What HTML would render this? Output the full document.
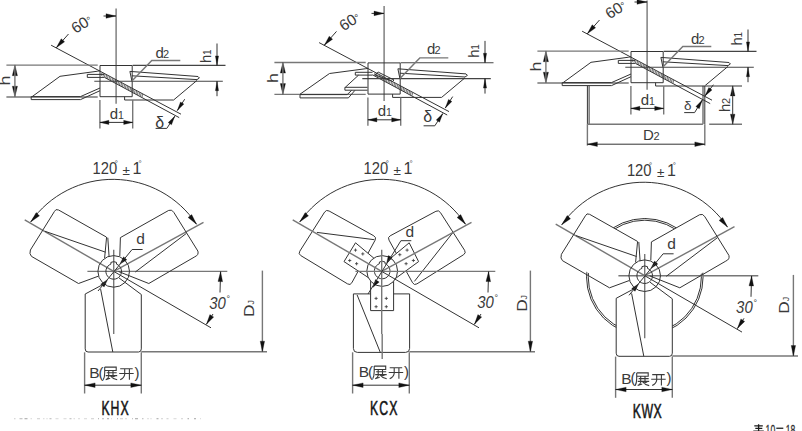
<!DOCTYPE html>
<html><head><meta charset="utf-8"><style>
html,body{margin:0;padding:0;background:#fff;}
svg{display:block}
.k{fill:none;stroke:#333;stroke-width:1}
.k2{fill:none;stroke:#444;stroke-width:1.1}
.g{fill:none;stroke:#777;stroke-width:1.4}
.g2{fill:none;stroke:#666;stroke-width:2}
.w{fill:#fff;stroke:none}
.kw{fill:#fff;stroke:#333;stroke-width:1}
.h{fill:none;stroke:#444;stroke-width:0.8}
.p{fill:none;stroke:#333;stroke-width:0.8}
.t{fill:none;stroke:#3a3a3a;stroke-width:1.1}
.f{fill:#111;stroke:#111;stroke-width:0.3}
text{font-family:"Liberation Sans",sans-serif;fill:#3a3a3a}
.lab{fill:#151515;stroke:#151515;stroke-width:0.55}
</style></head><body>
<svg width="802" height="431" viewBox="0 0 802 431">
<path class="g" d="M116.1 8.5 L116.1 103.7"/>
<path class="k" d="M103.5 16.0 L116.0 16.0"/>
<path class="f" d="M116.0 16.0 L106.0 18.3 L106.0 16.0 L106.0 13.7Z"/>
<path class="k" d="M51.1 45.2 L181.0 114.2"/>
<path class="k" d="M104.5 77.4 L179.2 117.6"/>
<path class="h" d="M102.0 72.6 L101.5 75.7"/>
<path class="h" d="M103.5 73.4 L103.0 76.5"/>
<path class="h" d="M105.0 74.2 L104.5 77.3"/>
<path class="h" d="M106.5 75.0 L106.0 78.1"/>
<path class="h" d="M108.0 75.8 L107.5 78.9"/>
<path class="h" d="M109.5 76.6 L109.0 79.7"/>
<path class="h" d="M111.0 77.4 L110.5 80.5"/>
<path class="h" d="M112.5 78.2 L112.0 81.3"/>
<path class="h" d="M114.0 79.0 L113.5 82.1"/>
<path class="h" d="M115.5 79.8 L115.0 82.9"/>
<path class="h" d="M117.0 80.6 L116.5 83.7"/>
<path class="h" d="M118.5 81.4 L118.0 84.5"/>
<path class="h" d="M120.0 82.2 L119.5 85.3"/>
<path class="h" d="M121.5 83.0 L121.0 86.1"/>
<path class="h" d="M123.0 83.8 L122.5 86.9"/>
<path class="h" d="M124.5 84.6 L124.0 87.7"/>
<path class="h" d="M126.0 85.4 L125.5 88.5"/>
<path class="h" d="M127.5 86.2 L127.0 89.3"/>
<path class="h" d="M129.0 87.0 L128.5 90.1"/>
<path class="h" d="M130.5 87.8 L130.0 90.9"/>
<path class="h" d="M132.0 88.6 L131.5 91.7"/>
<path class="h" d="M133.5 89.4 L133.0 92.5"/>
<path class="h" d="M135.0 90.2 L134.5 93.3"/>
<path class="h" d="M136.5 91.0 L136.0 94.1"/>
<path class="h" d="M138.0 91.8 L137.5 94.9"/>
<path class="h" d="M139.5 92.6 L139.0 95.7"/>
<path class="h" d="M141.0 93.4 L140.5 96.5"/>
<path class="h" d="M142.5 94.1 L142.0 97.3"/>
<path class="k" d="M68.5 34.0 L56.3 47.8"/>
<path class="f" d="M56.3 47.8 L61.2 38.8 L62.9 40.3 L64.6 41.8Z"/>
<text x="0.0" y="0.0" font-size="15.5" text-anchor="start" transform="translate(75.5 34.0) rotate(-32)" >60<tspan font-size="10" dy="-1">°</tspan></text>
<path class="g" d="M6.4 65.1 L97.7 65.1"/>
<path class="g" d="M6.4 97.0 L97.7 97.0"/>
<path class="k2" d="M132.7 65.4 L225.5 65.4"/>
<path class="k2" d="M94.3 81.2 L222.8 81.2"/>
<path class="k" d="M100.0 65.5 L132.2 65.5 L132.2 96.7 L100.0 96.7Z"/>
<path class="f" d="M14.9 64.9 L17.5 75.7 L14.9 75.7 L12.3 75.7Z"/>
<path class="f" d="M14.9 97.0 L12.3 86.2 L14.9 86.2 L17.5 86.2Z"/>
<path class="g" d="M14.9 65.0 L14.9 97.0"/>
<text x="0.0" y="0.0" font-size="15.5" text-anchor="start" transform="translate(9.6 85.5) rotate(-90) scale(1.15 1)" >h</text>
<path class="k" d="M31.9 96.8 L60.0 76.3 L97.7 71.2 L100.0 70.7"/>
<path class="k" d="M31.2 96.6 L80.5 96.6 L100.0 88.0"/>
<path class="k" d="M31.2 99.6 L80.5 99.6 L100.0 90.7"/>
<path class="k" d="M31.2 96.6 L31.2 99.6"/>
<path class="k" d="M87.3 74.4 L104.3 74.4"/>
<path class="k" d="M87.3 77.4 L104.3 77.4"/>
<path class="k" d="M87.3 74.4 L87.3 77.4"/>
<path class="k" d="M129.9 71.4 L198.0 76.5"/>
<path class="k" d="M131.9 75.8 L197.0 79.6"/>
<path class="k" d="M198.0 76.5 L199.4 78.0 L197.0 79.6"/>
<path class="k" d="M129.9 71.4 L131.9 81.1"/>
<path class="k" d="M197.0 80.4 L173.6 100.0"/>
<path class="k" d="M124.6 96.7 L124.6 100.0 L173.6 100.0"/>
<path class="g" d="M131.9 81.1 L151.8 60.5 L180.3 60.5"/>
<text x="155.6" y="58.2" font-size="15" text-anchor="start" >d</text>
<text x="163.0" y="58.2" font-size="11" text-anchor="start" >2</text>
<path class="k" d="M217.0 43.5 L217.0 65.4"/>
<path class="f" d="M217.0 65.4 L215.4 55.9 L217.0 55.9 L218.6 55.9Z"/>
<path class="k" d="M217.0 96.2 L217.0 81.2"/>
<path class="f" d="M217.0 81.2 L218.6 90.7 L217.0 90.7 L215.4 90.7Z"/>
<text x="0.0" y="0.0" font-size="15" text-anchor="start" transform="translate(210.5 63.0) rotate(-90)" >h</text>
<text x="0.0" y="0.0" font-size="10" text-anchor="start" transform="translate(210.5 55.0) rotate(-90)" >1</text>
<path class="g" d="M99.9 100.0 L99.9 128.4"/>
<path class="g" d="M132.7 100.0 L132.7 128.4"/>
<path class="k" d="M116.0 122.4 L99.9 122.4"/>
<path class="f" d="M99.9 122.4 L108.9 120.3 L108.9 122.4 L108.9 124.5Z"/>
<path class="k" d="M116.0 122.4 L132.7 122.4"/>
<path class="f" d="M132.7 122.4 L123.7 124.5 L123.7 122.4 L123.7 120.3Z"/>
<text x="109.8" y="118.5" font-size="15" text-anchor="start" >d</text>
<text x="118.0" y="118.5" font-size="10.5" text-anchor="start" >1</text>
<path class="k" d="M184.7 99.2 L177.3 110.6"/>
<path class="f" d="M177.3 110.6 L180.5 102.0 L182.2 103.1 L183.9 104.1Z"/>
<path class="k" d="M166.8 128.4 L174.8 116.2"/>
<path class="f" d="M174.8 116.2 L171.5 124.8 L169.9 123.7 L168.2 122.6Z"/>
<path class="k" d="M155.6 128.4 L166.8 128.4"/>
<text x="155.3" y="127.8" font-size="16" text-anchor="start" class="thin">δ</text>
<path class="g" d="M384.1 5.9 L384.1 101.1"/>
<path class="k" d="M371.5 13.4 L384.0 13.4"/>
<path class="f" d="M384.0 13.4 L374.0 15.7 L374.0 13.4 L374.0 11.1Z"/>
<path class="k" d="M319.1 42.6 L449.0 111.6"/>
<path class="k" d="M372.5 74.8 L447.2 115.0"/>
<path class="h" d="M375.0 72.7 L374.5 75.8"/>
<path class="h" d="M376.5 73.5 L376.0 76.6"/>
<path class="h" d="M378.0 74.3 L377.5 77.4"/>
<path class="h" d="M379.5 75.1 L379.0 78.2"/>
<path class="h" d="M381.0 75.9 L380.5 79.0"/>
<path class="h" d="M382.5 76.7 L382.0 79.8"/>
<path class="h" d="M384.0 77.5 L383.5 80.6"/>
<path class="h" d="M385.5 78.3 L385.0 81.4"/>
<path class="h" d="M387.0 79.1 L386.5 82.2"/>
<path class="h" d="M388.5 79.9 L388.0 83.0"/>
<path class="h" d="M390.0 80.7 L389.5 83.8"/>
<path class="h" d="M391.5 81.5 L391.0 84.6"/>
<path class="h" d="M393.0 82.3 L392.5 85.4"/>
<path class="h" d="M394.5 83.1 L394.0 86.2"/>
<path class="h" d="M396.0 83.9 L395.5 87.0"/>
<path class="h" d="M397.5 84.7 L397.0 87.8"/>
<path class="h" d="M399.0 85.5 L398.5 88.6"/>
<path class="h" d="M400.5 86.2 L400.0 89.4"/>
<path class="h" d="M402.0 87.0 L401.5 90.2"/>
<path class="h" d="M403.5 87.8 L403.0 91.0"/>
<path class="h" d="M405.0 88.6 L404.5 91.8"/>
<path class="h" d="M406.5 89.4 L406.0 92.6"/>
<path class="h" d="M408.0 90.2 L407.5 93.4"/>
<path class="h" d="M409.5 91.0 L409.0 94.1"/>
<path class="h" d="M411.0 91.8 L410.5 94.9"/>
<path class="h" d="M412.5 92.6 L412.0 95.7"/>
<path class="k" d="M336.5 31.4 L324.3 45.2"/>
<path class="f" d="M324.3 45.2 L329.2 36.2 L330.9 37.7 L332.6 39.2Z"/>
<text x="0.0" y="0.0" font-size="15.5" text-anchor="start" transform="translate(343.5 31.4) rotate(-32)" >60<tspan font-size="10" dy="-1">°</tspan></text>
<path class="g" d="M274.4 62.5 L365.7 62.5"/>
<path class="g" d="M274.4 94.4 L365.7 94.4"/>
<path class="k2" d="M400.7 62.8 L493.5 62.8"/>
<path class="k2" d="M362.3 78.6 L490.8 78.6"/>
<path class="k" d="M368.0 62.9 L400.2 62.9 L400.2 94.1 L368.0 94.1Z"/>
<path class="f" d="M282.9 62.3 L285.5 73.1 L282.9 73.1 L280.3 73.1Z"/>
<path class="f" d="M282.9 94.4 L280.3 83.6 L282.9 83.6 L285.5 83.6Z"/>
<path class="g" d="M282.9 62.4 L282.9 94.4"/>
<text x="0.0" y="0.0" font-size="15.5" text-anchor="start" transform="translate(277.6 82.9) rotate(-90) scale(1.15 1)" >h</text>
<path class="k" d="M300.0 94.2 L329.5 73.5 L365.8 68.7 L368.0 68.4"/>
<path class="k" d="M300.0 94.6 L347.2 94.6 L351.6 90.4"/>
<path class="k" d="M300.0 97.9 L348.4 97.9 L354.9 90.4"/>
<path class="k" d="M300.0 94.6 L300.0 97.9"/>
<path class="k" d="M344.9 87.3 L367.5 87.3"/>
<path class="k" d="M344.9 90.2 L367.5 90.2"/>
<path class="k" d="M344.9 87.3 L344.9 90.2"/>
<path class="k" d="M345.3 87.3 L358.5 75.2"/>
<path class="k" d="M355.3 72.3 L372.5 72.3"/>
<path class="k" d="M355.3 75.1 L372.5 75.1"/>
<path class="k" d="M355.3 72.3 L355.3 75.1"/>
<path class="k" d="M378.2 72.1 L394.0 80.0 L392.6 81.4 L375.0 74.9Z"/>
<path class="k" d="M397.9 68.8 L466.0 73.9"/>
<path class="k" d="M399.9 73.2 L465.0 77.0"/>
<path class="k" d="M466.0 73.9 L467.4 75.4 L465.0 77.0"/>
<path class="k" d="M397.9 68.8 L399.9 78.5"/>
<path class="k" d="M465.0 77.8 L441.6 97.4"/>
<path class="k" d="M392.6 94.1 L392.6 97.4 L441.6 97.4"/>
<path class="g" d="M399.9 78.5 L419.8 57.9 L448.3 57.9"/>
<text x="427.1" y="54.4" font-size="15" text-anchor="start" >d</text>
<text x="434.5" y="54.4" font-size="11" text-anchor="start" >2</text>
<path class="k" d="M485.0 40.9 L485.0 62.8"/>
<path class="f" d="M485.0 62.8 L483.4 53.3 L485.0 53.3 L486.6 53.3Z"/>
<path class="k" d="M485.0 93.6 L485.0 78.6"/>
<path class="f" d="M485.0 78.6 L486.6 88.1 L485.0 88.1 L483.4 88.1Z"/>
<text x="0.0" y="0.0" font-size="15" text-anchor="start" transform="translate(478.5 57.8) rotate(-90)" >h</text>
<text x="0.0" y="0.0" font-size="10" text-anchor="start" transform="translate(478.5 49.8) rotate(-90)" >1</text>
<path class="g" d="M367.9 97.4 L367.9 125.8"/>
<path class="g" d="M400.7 97.4 L400.7 125.8"/>
<path class="k" d="M384.0 119.8 L367.9 119.8"/>
<path class="f" d="M367.9 119.8 L376.9 117.7 L376.9 119.8 L376.9 121.9Z"/>
<path class="k" d="M384.0 119.8 L400.7 119.8"/>
<path class="f" d="M400.7 119.8 L391.7 121.9 L391.7 119.8 L391.7 117.7Z"/>
<text x="377.8" y="115.9" font-size="15" text-anchor="start" >d</text>
<text x="386.0" y="115.9" font-size="10.5" text-anchor="start" >1</text>
<path class="k" d="M452.7 96.6 L445.3 108.0"/>
<path class="f" d="M445.3 108.0 L448.5 99.4 L450.2 100.5 L451.9 101.5Z"/>
<path class="k" d="M434.8 125.8 L442.8 113.6"/>
<path class="f" d="M442.8 113.6 L439.5 122.2 L437.9 121.1 L436.2 120.0Z"/>
<path class="k" d="M423.6 125.8 L434.8 125.8"/>
<text x="423.3" y="122.4" font-size="16" text-anchor="start" class="thin">δ</text>
<path class="g" d="M647.1 0.5 L647.1 89.7"/>
<path class="k" d="M634.5 2.0 L647.0 2.0"/>
<path class="f" d="M647.0 2.0 L637.0 4.3 L637.0 2.0 L637.0 -0.3Z"/>
<path class="k" d="M582.1 31.2 L712.0 100.2"/>
<path class="k" d="M635.5 63.4 L710.2 103.6"/>
<path class="h" d="M633.0 58.6 L632.5 61.7"/>
<path class="h" d="M634.5 59.4 L634.0 62.5"/>
<path class="h" d="M636.0 60.2 L635.5 63.3"/>
<path class="h" d="M637.5 61.0 L637.0 64.1"/>
<path class="h" d="M639.0 61.8 L638.5 64.9"/>
<path class="h" d="M640.5 62.6 L640.0 65.7"/>
<path class="h" d="M642.0 63.4 L641.5 66.5"/>
<path class="h" d="M643.5 64.2 L643.0 67.3"/>
<path class="h" d="M645.0 65.0 L644.5 68.1"/>
<path class="h" d="M646.5 65.8 L646.0 68.9"/>
<path class="h" d="M648.0 66.6 L647.5 69.7"/>
<path class="h" d="M649.5 67.4 L649.0 70.5"/>
<path class="h" d="M651.0 68.2 L650.5 71.3"/>
<path class="h" d="M652.5 69.0 L652.0 72.1"/>
<path class="h" d="M654.0 69.8 L653.5 72.9"/>
<path class="h" d="M655.5 70.6 L655.0 73.7"/>
<path class="h" d="M657.0 71.4 L656.5 74.5"/>
<path class="h" d="M658.5 72.2 L658.0 75.3"/>
<path class="h" d="M660.0 73.0 L659.5 76.1"/>
<path class="h" d="M661.5 73.8 L661.0 76.9"/>
<path class="h" d="M663.0 74.6 L662.5 77.7"/>
<path class="h" d="M664.5 75.4 L664.0 78.5"/>
<path class="h" d="M666.0 76.2 L665.5 79.3"/>
<path class="h" d="M667.5 77.0 L667.0 80.1"/>
<path class="h" d="M669.0 77.8 L668.5 80.9"/>
<path class="h" d="M670.5 78.6 L670.0 81.7"/>
<path class="h" d="M672.0 79.4 L671.5 82.5"/>
<path class="h" d="M673.5 80.1 L673.0 83.3"/>
<path class="k" d="M599.5 20.0 L587.3 33.8"/>
<path class="f" d="M587.3 33.8 L592.2 24.8 L593.9 26.3 L595.6 27.8Z"/>
<text x="0.0" y="0.0" font-size="15.5" text-anchor="start" transform="translate(609.5 19.5) rotate(-32)" >60<tspan font-size="10" dy="-1">°</tspan></text>
<path class="g" d="M537.4 51.1 L628.7 51.1"/>
<path class="g" d="M537.4 83.0 L628.7 83.0"/>
<path class="k2" d="M663.7 51.4 L756.5 51.4"/>
<path class="k2" d="M625.3 67.2 L753.8 67.2"/>
<path class="k" d="M631.0 51.5 L663.2 51.5 L663.2 82.7 L631.0 82.7Z"/>
<path class="f" d="M545.9 50.9 L548.5 61.7 L545.9 61.7 L543.3 61.7Z"/>
<path class="f" d="M545.9 83.0 L543.3 72.2 L545.9 72.2 L548.5 72.2Z"/>
<path class="g" d="M545.9 51.0 L545.9 83.0"/>
<text x="0.0" y="0.0" font-size="15.5" text-anchor="start" transform="translate(540.6 71.5) rotate(-90) scale(1.15 1)" >h</text>
<path class="k" d="M562.9 82.8 L591.0 62.3 L628.7 57.2 L631.0 56.7"/>
<path class="k" d="M562.2 82.6 L611.5 82.6 L631.0 74.0"/>
<path class="k" d="M562.2 85.6 L611.5 85.6 L631.0 76.7"/>
<path class="k" d="M562.2 82.6 L562.2 85.6"/>
<path class="k" d="M618.3 60.4 L635.3 60.4"/>
<path class="k" d="M618.3 63.4 L635.3 63.4"/>
<path class="k" d="M618.3 60.4 L618.3 63.4"/>
<path class="k" d="M660.9 57.4 L729.0 62.5"/>
<path class="k" d="M662.9 61.8 L728.0 65.6"/>
<path class="k" d="M729.0 62.5 L730.4 64.0 L728.0 65.6"/>
<path class="k" d="M660.9 57.4 L662.9 67.1"/>
<path class="k" d="M728.0 66.4 L704.6 86.0"/>
<path class="k" d="M655.6 82.7 L655.6 86.0 L704.6 86.0"/>
<path class="g" d="M704.6 86.0 L742.0 86.0"/>
<path class="g" d="M662.9 67.1 L682.8 46.5 L711.3 46.5"/>
<text x="691.1" y="44.2" font-size="15" text-anchor="start" >d</text>
<text x="698.5" y="44.2" font-size="11" text-anchor="start" >2</text>
<path class="k" d="M748.0 29.5 L748.0 51.4"/>
<path class="f" d="M748.0 51.4 L746.4 41.9 L748.0 41.9 L749.6 41.9Z"/>
<path class="k" d="M748.0 82.2 L748.0 67.2"/>
<path class="f" d="M748.0 67.2 L749.6 76.7 L748.0 76.7 L746.4 76.7Z"/>
<text x="0.0" y="0.0" font-size="15" text-anchor="start" transform="translate(742.0 45.5) rotate(-90)" >h</text>
<text x="0.0" y="0.0" font-size="10" text-anchor="start" transform="translate(742.0 37.5) rotate(-90)" >1</text>
<path class="g" d="M630.9 86.0 L630.9 114.4"/>
<path class="g" d="M663.7 86.0 L663.7 114.4"/>
<path class="k" d="M647.0 108.4 L630.9 108.4"/>
<path class="f" d="M630.9 108.4 L639.9 106.3 L639.9 108.4 L639.9 110.5Z"/>
<path class="k" d="M647.0 108.4 L663.7 108.4"/>
<path class="f" d="M663.7 108.4 L654.7 110.5 L654.7 108.4 L654.7 106.3Z"/>
<text x="640.8" y="104.5" font-size="15" text-anchor="start" >d</text>
<text x="649.0" y="104.5" font-size="10.5" text-anchor="start" >1</text>
<path class="k" d="M713.4 84.7 L705.0 95.9"/>
<path class="f" d="M705.0 95.9 L708.8 87.5 L710.4 88.7 L712.0 89.9Z"/>
<path class="k" d="M694.6 112.6 L702.3 100.0"/>
<path class="f" d="M702.3 100.0 L699.3 108.7 L697.6 107.7 L695.9 106.6Z"/>
<path class="k" d="M684.2 112.6 L694.6 112.6"/>
<text x="684.0" y="110.3" font-size="13.5" text-anchor="start" class="thin">δ</text>
<path class="k" d="M587.4 85.9 L587.4 124.2"/>
<path class="k" d="M589.1 85.9 L589.1 124.2"/>
<path class="k" d="M703.0 85.9 L703.0 124.2"/>
<path class="k" d="M704.8 85.9 L704.8 124.2"/>
<path class="g" d="M587.4 124.2 L702.9 124.2"/>
<path class="g" d="M709.2 124.2 L742.0 124.2"/>
<path class="g" d="M587.4 124.2 L587.4 145.6"/>
<path class="g" d="M704.8 124.2 L704.8 145.6"/>
<path class="k" d="M645.0 144.2 L587.4 144.2"/>
<path class="f" d="M587.4 144.2 L597.4 141.9 L597.4 144.2 L597.4 146.5Z"/>
<path class="k" d="M645.0 144.2 L704.8 144.2"/>
<path class="f" d="M704.8 144.2 L694.8 146.5 L694.8 144.2 L694.8 141.9Z"/>
<text x="643.0" y="140.0" font-size="15" text-anchor="start" >D</text>
<text x="653.5" y="140.0" font-size="11" text-anchor="start" >2</text>
<path class="f" d="M732.7 85.9 L735.0 95.9 L732.7 95.9 L730.4 95.9Z"/>
<path class="f" d="M732.7 124.2 L730.4 114.2 L732.7 114.2 L735.0 114.2Z"/>
<path class="k" d="M732.7 85.9 L732.7 124.2"/>
<text x="0.0" y="0.0" font-size="15" text-anchor="start" transform="translate(729.5 112.0) rotate(-90)" >h</text>
<text x="0.0" y="0.0" font-size="11" text-anchor="start" transform="translate(729.5 104.0) rotate(-90)" >2</text>
<path class="g" d="M87.4 271.4 L227.3 271.4"/>
<path class="g" d="M113.7 249.7 L113.7 334.0"/>
<path class="k" d="M113.7 271.4 L211.0 327.8"/>
<path class="g" d="M141.3 351.7 L267.0 351.7"/>
<path class="g" d="M24.7 219.8 L113.7 271.4"/>
<path class="g" d="M203.5 222.3 L113.7 271.4"/>
<path class="k" d="M220.0 292.5 L220.6 271.6"/>
<path class="f" d="M220.6 271.6 L222.6 281.7 L220.3 281.6 L218.0 281.5Z"/>
<path class="k" d="M213.0 314.0 L206.4 324.3"/>
<path class="f" d="M206.4 324.3 L209.9 314.6 L211.8 315.9 L213.7 317.1Z"/>
<path class="g" d="M262.4 351.7 L262.4 270.6"/>
<path class="f" d="M262.4 351.7 L260.2 341.2 L262.4 341.2 L264.6 341.2Z"/>
<text x="209.2" y="308.6" font-size="17" text-anchor="start" textLength="16.6" lengthAdjust="spacingAndGlyphs" font-style="italic">30</text>
<text x="226.5" y="302.0" font-size="9" text-anchor="start" >°</text>
<text x="0.0" y="0.0" font-size="15" text-anchor="start" transform="translate(253.6 317.0) rotate(-90) scale(1.15 1)" >D</text>
<text x="0.0" y="0.0" font-size="9" text-anchor="start" transform="translate(253.6 304.6) rotate(-90)" >J</text>
<path class="k" transform="translate(0 0)" d="M30.7 221.9 A100.5 100.5 0 0 1 196.5 224.2"/>
<path class="f" d="M30.7 221.9 L36.2 212.6 L37.8 214.2 L39.5 215.8Z"/>
<path class="f" d="M196.5 224.2 L188.1 217.5 L189.9 216.0 L191.7 214.6Z"/>
<text x="92.6" y="173.8" font-size="16" text-anchor="start" textLength="24.6" lengthAdjust="spacingAndGlyphs" >120</text>
<text x="114.8" y="165.5" font-size="8" text-anchor="start" >°</text>
<text x="122.6" y="174.8" font-size="13.5" text-anchor="start" >±</text>
<text x="132.6" y="173.8" font-size="16" text-anchor="start" >1</text>
<text x="138.4" y="165.5" font-size="8" text-anchor="start" >°</text>
<path class="g" d="M84.6 352.3 L84.6 393.5"/>
<path class="g" d="M141.3 352.3 L141.3 393.5"/>
<path class="k" d="M113.0 385.2 L84.6 385.2"/>
<path class="f" d="M84.6 385.2 L95.1 382.9 L95.1 385.2 L95.1 387.5Z"/>
<path class="k" d="M113.0 385.2 L141.3 385.2"/>
<path class="f" d="M141.3 385.2 L130.8 387.5 L130.8 385.2 L130.8 382.9Z"/>
<text x="89.3" y="378.3" font-size="15.5" text-anchor="start" >B</text>
<text x="98.6" y="377.5" font-size="15" text-anchor="start" >(</text>
<path class="t" transform="translate(103.2 366.3)" d="M1.5 0.8H13V4.2H1.5 M1.5 0.8V6.5Q1.5 11 0 13.5 M3.5 6.5H13.5 M5.5 4.6V9.3 M9.8 4.6V9.3 M2.5 9.3H14 M6 9.3Q5 12.5 2.5 13.5 L7 12 M7 9.3Q9.5 12.5 14 13.5 M8.5 11L12 9.8 M17 2.5H29.5 M16 7.2H30.5 M21.5 2.5V8Q21 11.5 17 13.5 M26.2 2.5V13.5"/>
<text x="134.6" y="377.5" font-size="15" text-anchor="start" >)</text>
<circle class="k" cx="113.7" cy="271.4" r="15.8" />
<path class="k" transform="translate(113.7 271.4)" d="M-2.8 -7.3 A7.8 7.8 0 1 0 2.8 -7.3 L2.8 -9 Q0 -10.5 -2.8 -9Z"/>
<path class="k" transform="translate(0 0)" d="M106.3 237 L58.6 210 Q55.5 208.5 54.4 211.5 L30.4 250 Q29 254 31.5 256.4 L78.5 283.5 L98.3 276.2" />
<path class="k" d="M106.6 237.0 L104.6 258.1"/>
<path class="k" d="M107.8 237.7 L109.1 256.8"/>
<path class="k" d="M45.0 231.3 L105.6 252.2"/>
<path class="k" transform="translate(0 0)" d="M119.8 256 L120.4 237.6 L168.7 210.4 Q172 209 173.9 212.5 L197.9 251.1 Q199 255 194.8 256.8 L148.8 283.5 L118.5 271.5" />
<path class="k" d="M186.4 233.4 L135.3 272.0"/>
<path class="f" d="M119.8 264.2 L123.6 256.8 L125.2 258.3 L126.8 259.8Z"/>
<path class="f" d="M107.6 279.5 L104.1 287.0 L102.4 285.6 L100.7 284.2Z"/>
<path class="k" d="M98.0 291.0 L132.1 249.5 L142.6 249.5"/>
<text x="136.3" y="244.2" font-size="15.5" text-anchor="start" >d</text>
<path class="k" transform="translate(0 0)" d="M104.3 283.8 L85.2 294 L85.2 348.9 Q85.2 352 88 352 L138.5 352 Q141.3 352 141.3 348.9 L141.3 294.5 L119 277.9" />
<path class="k" d="M100.6 289.1 L112.8 352.0"/>
<text x="0.0" y="0.0" font-size="19.5" text-anchor="start" transform="translate(101.4 414.7) scale(0.63 1)" class="lab" letter-spacing="1.6">KHX</text>
<circle class="k" cx="644.8" cy="276.8" r="58.3" />
<circle class="k" cx="644.8" cy="276.8" r="56.6" />
<path class="w" transform="translate(531 4.3)" d="M58.6 210 L105.6 236.5 L119.6 237.6 L168.7 210.4 L197.9 251.1 L148.8 283.5 L141.3 294.5 L141.3 352 L85.2 352 L85.2 294 L78.5 283.5 L30.4 250Z" />
<circle class="w" cx="644.7" cy="275.7" r="15.8" />
<path class="g" d="M618.4 275.7 L758.3 275.7"/>
<path class="g" d="M644.7 254.0 L644.7 338.3"/>
<path class="k" d="M644.7 275.7 L742.0 332.1"/>
<path class="g" d="M672.3 356.0 L798.0 356.0"/>
<path class="g" d="M555.7 224.1 L644.7 275.7"/>
<path class="g" d="M734.5 226.6 L644.7 275.7"/>
<path class="k" d="M751.0 296.8 L751.6 275.9"/>
<path class="f" d="M751.6 275.9 L753.6 286.0 L751.3 285.9 L749.0 285.8Z"/>
<path class="k" d="M744.0 318.3 L737.4 328.6"/>
<path class="f" d="M737.4 328.6 L740.9 318.9 L742.8 320.2 L744.7 321.4Z"/>
<path class="g" d="M793.4 356.0 L793.4 274.9"/>
<path class="f" d="M793.4 356.0 L791.2 345.5 L793.4 345.5 L795.6 345.5Z"/>
<text x="736.1" y="312.6" font-size="17" text-anchor="start" textLength="16.6" lengthAdjust="spacingAndGlyphs" font-style="italic">30</text>
<text x="753.4" y="306.0" font-size="9" text-anchor="start" >°</text>
<text x="0.0" y="0.0" font-size="15" text-anchor="start" transform="translate(788.9 313.7) rotate(-90) scale(1.15 1)" >D</text>
<text x="0.0" y="0.0" font-size="9" text-anchor="start" transform="translate(788.9 301.3) rotate(-90)" >J</text>
<path class="k" transform="translate(531 2.9)" d="M30.7 221.9 A100.5 100.5 0 0 1 196.5 224.2"/>
<path class="f" d="M561.7 224.8 L567.2 215.5 L568.8 217.1 L570.5 218.7Z"/>
<path class="f" d="M727.5 227.1 L719.1 220.4 L720.9 218.9 L722.7 217.5Z"/>
<text x="626.9" y="176.0" font-size="16" text-anchor="start" textLength="24.6" lengthAdjust="spacingAndGlyphs" >120</text>
<text x="649.1" y="167.7" font-size="8" text-anchor="start" >°</text>
<text x="656.9" y="177.0" font-size="13.5" text-anchor="start" >±</text>
<text x="666.9" y="176.0" font-size="16" text-anchor="start" >1</text>
<text x="672.7" y="167.7" font-size="8" text-anchor="start" >°</text>
<path class="g" d="M615.6 356.6 L615.6 397.8"/>
<path class="g" d="M672.3 356.6 L672.3 397.8"/>
<path class="k" d="M644.0 389.5 L615.6 389.5"/>
<path class="f" d="M615.6 389.5 L626.1 387.2 L626.1 389.5 L626.1 391.8Z"/>
<path class="k" d="M644.0 389.5 L672.3 389.5"/>
<path class="f" d="M672.3 389.5 L661.8 391.8 L661.8 389.5 L661.8 387.2Z"/>
<text x="621.3" y="384.1" font-size="15.5" text-anchor="start" >B</text>
<text x="630.6" y="383.3" font-size="15" text-anchor="start" >(</text>
<path class="t" transform="translate(635.2 372.1)" d="M1.5 0.8H13V4.2H1.5 M1.5 0.8V6.5Q1.5 11 0 13.5 M3.5 6.5H13.5 M5.5 4.6V9.3 M9.8 4.6V9.3 M2.5 9.3H14 M6 9.3Q5 12.5 2.5 13.5 L7 12 M7 9.3Q9.5 12.5 14 13.5 M8.5 11L12 9.8 M17 2.5H29.5 M16 7.2H30.5 M21.5 2.5V8Q21 11.5 17 13.5 M26.2 2.5V13.5"/>
<text x="666.6" y="383.3" font-size="15" text-anchor="start" >)</text>
<circle class="k" cx="644.7" cy="275.7" r="15.8" />
<path class="k" transform="translate(644.7 275.7)" d="M-2.8 -7.3 A7.8 7.8 0 1 0 2.8 -7.3 L2.8 -9 Q0 -10.5 -2.8 -9Z"/>
<path class="k" transform="translate(531 4.3)" d="M106.3 237 L58.6 210 Q55.5 208.5 54.4 211.5 L30.4 250 Q29 254 31.5 256.4 L78.5 283.5 L98.3 276.2" />
<path class="k" d="M637.6 241.3 L635.6 262.4"/>
<path class="k" d="M638.8 242.0 L640.1 261.1"/>
<path class="k" d="M576.0 235.6 L636.6 256.5"/>
<path class="k" transform="translate(531 4.3)" d="M119.8 256 L120.4 237.6 L168.7 210.4 Q172 209 173.9 212.5 L197.9 251.1 Q199 255 194.8 256.8 L148.8 283.5 L118.5 271.5" />
<path class="k" d="M717.4 237.7 L666.3 276.3"/>
<path class="f" d="M650.8 268.5 L654.6 261.1 L656.2 262.6 L657.8 264.1Z"/>
<path class="f" d="M638.6 283.8 L635.1 291.3 L633.4 289.9 L631.7 288.5Z"/>
<path class="k" d="M629.0 295.3 L663.1 253.8 L673.6 253.8"/>
<text x="667.3" y="248.5" font-size="15.5" text-anchor="start" >d</text>
<path class="k" transform="translate(531 4.3)" d="M104.3 283.8 L85.2 294 L85.2 348.9 Q85.2 352 88 352 L138.5 352 Q141.3 352 141.3 348.9 L141.3 294.5 L119 277.9" />
<path class="k" d="M631.6 293.4 L643.8 356.3"/>
<text x="0.0" y="0.0" font-size="19.5" text-anchor="start" transform="translate(632.8 418.4) scale(0.63 1)" class="lab" letter-spacing="0.8">KWX</text>
<path class="kw" d="M329.1 211.0 Q326.3 209.4 324.6 212.1 L299.8 251.2 Q298.1 253.9 300.8 255.6 L347.6 283.9 Q350.3 285.6 351.8 282.8 L375.1 240.2 Q376.6 237.4 373.8 235.8 Z" />
<path class="kw" d="M435.9 211.3 Q438.7 209.8 440.4 212.5 L464.6 250.3 Q466.3 253.0 463.6 254.7 L416.9 283.9 Q414.2 285.6 412.6 282.8 L389.0 240.1 Q387.4 237.3 390.2 235.8 Z" />
<path class="k" d="M316.9 232.4 L374.3 239.7"/>
<path class="k" d="M453.0 232.4 L414.4 281.4"/>
<path class="kw" d="M353.4 293.9 V348.4 Q353.4 352.4 357.4 352.4 H405.6 Q409.6 352.4 409.6 348.4 V293.9 Z"/>
<path class="k" d="M357.1 294.9 L380.3 352.4"/>
<path class="kw" d="M382 265 L355.5 242.8 L344 261.6 L372 280Z"/>
<path class="kw" d="M382.5 265 L409.2 242.8 L418.6 261.6 L392 281Z"/>
<path class="kw" d="M370.6 275 V310.6 H393.6 V275Z"/>
<path class="p" d="M353.9 250.1H357.1M355.5 248.5V251.7"/>
<path class="p" d="M361.2 253.9H364.4M362.8 252.3V255.5"/>
<path class="p" d="M348.1 260.5H351.3M349.7 258.9V262.1"/>
<path class="p" d="M355.0 263.7H358.2M356.6 262.1V265.3"/>
<path class="p" d="M405.5 250.1H408.7M407.1 248.5V251.7"/>
<path class="p" d="M398.2 254.7H401.4M399.8 253.1V256.3"/>
<path class="p" d="M411.8 260.5H415.0M413.4 258.9V262.1"/>
<path class="p" d="M404.5 263.7H407.7M406.1 262.1V265.3"/>
<path class="p" d="M374.5 298.4H377.7M376.1 296.8V300.0"/>
<path class="p" d="M384.7 298.4H387.9M386.3 296.8V300.0"/>
<path class="p" d="M374.5 306.7H377.7M376.1 305.1V308.3"/>
<path class="p" d="M384.7 306.7H387.9M386.3 305.1V308.3"/>
<circle class="kw" cx="382.2" cy="271.0" r="15.4" />
<path class="k" transform="translate(382.2 271.0)" d="M-2.8 -7.3 A7.8 7.8 0 1 0 2.8 -7.3 L2.8 -9 Q0 -10.5 -2.8 -9Z"/>
<path class="g" d="M355.4 271.4 L495.3 271.4"/>
<path class="g" d="M381.7 249.7 L381.7 334.0"/>
<path class="k" d="M381.7 271.4 L479.0 327.8"/>
<path class="g" d="M409.3 351.7 L535.0 351.7"/>
<path class="g" d="M292.7 219.8 L381.7 271.4"/>
<path class="g" d="M471.5 222.3 L381.7 271.4"/>
<path class="k" d="M488.0 292.5 L488.6 271.6"/>
<path class="f" d="M488.6 271.6 L490.6 281.7 L488.3 281.6 L486.0 281.5Z"/>
<path class="k" d="M481.0 314.0 L474.4 324.3"/>
<path class="f" d="M474.4 324.3 L477.9 314.6 L479.8 315.9 L481.7 317.1Z"/>
<path class="g" d="M530.4 351.7 L530.4 270.6"/>
<path class="f" d="M530.4 351.7 L528.2 341.2 L530.4 341.2 L532.6 341.2Z"/>
<text x="477.2" y="307.6" font-size="17" text-anchor="start" textLength="16.6" lengthAdjust="spacingAndGlyphs" font-style="italic">30</text>
<text x="494.5" y="301.0" font-size="9" text-anchor="start" >°</text>
<text x="0.0" y="0.0" font-size="15" text-anchor="start" transform="translate(526.8 311.8) rotate(-90) scale(1.15 1)" >D</text>
<text x="0.0" y="0.0" font-size="9" text-anchor="start" transform="translate(526.8 299.4) rotate(-90)" >J</text>
<path class="k" transform="translate(269 0)" d="M30.7 221.9 A100.5 100.5 0 0 1 196.5 224.2"/>
<path class="f" d="M299.7 221.9 L305.2 212.6 L306.8 214.2 L308.5 215.8Z"/>
<path class="f" d="M465.5 224.2 L457.1 217.5 L458.9 216.0 L460.7 214.6Z"/>
<text x="363.6" y="173.8" font-size="16" text-anchor="start" textLength="24.6" lengthAdjust="spacingAndGlyphs" >120</text>
<text x="385.8" y="165.5" font-size="8" text-anchor="start" >°</text>
<text x="393.6" y="174.8" font-size="13.5" text-anchor="start" >±</text>
<text x="403.6" y="173.8" font-size="16" text-anchor="start" >1</text>
<text x="409.4" y="165.5" font-size="8" text-anchor="start" >°</text>
<path class="g" d="M352.6 352.3 L352.6 393.5"/>
<path class="g" d="M409.3 352.3 L409.3 393.5"/>
<path class="k" d="M381.0 385.2 L352.6 385.2"/>
<path class="f" d="M352.6 385.2 L363.1 382.9 L363.1 385.2 L363.1 387.5Z"/>
<path class="k" d="M381.0 385.2 L409.3 385.2"/>
<path class="f" d="M409.3 385.2 L398.8 387.5 L398.8 385.2 L398.8 382.9Z"/>
<text x="358.8" y="377.3" font-size="15.5" text-anchor="start" >B</text>
<text x="368.1" y="376.5" font-size="15" text-anchor="start" >(</text>
<path class="t" transform="translate(372.7 365.3)" d="M1.5 0.8H13V4.2H1.5 M1.5 0.8V6.5Q1.5 11 0 13.5 M3.5 6.5H13.5 M5.5 4.6V9.3 M9.8 4.6V9.3 M2.5 9.3H14 M6 9.3Q5 12.5 2.5 13.5 L7 12 M7 9.3Q9.5 12.5 14 13.5 M8.5 11L12 9.8 M17 2.5H29.5 M16 7.2H30.5 M21.5 2.5V8Q21 11.5 17 13.5 M26.2 2.5V13.5"/>
<text x="404.1" y="376.5" font-size="15" text-anchor="start" >)</text>
<path class="g" d="M382.2 334.0 L382.2 359.0"/>
<path class="f" d="M386.5 263.7 L388.3 255.6 L390.3 256.6 L392.2 257.7Z"/>
<path class="f" d="M372.8 287.4 L375.5 279.6 L377.3 280.8 L379.2 282.1Z"/>
<path class="k" d="M368.0 294.0 L400.9 240.7 L411.3 240.7"/>
<text x="405.5" y="236.5" font-size="15.5" text-anchor="start" >d</text>
<text x="0.0" y="0.0" font-size="19.5" text-anchor="start" transform="translate(370.1 415.0) scale(0.63 1)" class="lab" letter-spacing="1.6">KCX</text>
<path class="t" style="stroke:#1a1a1a;stroke-width:1.3" transform="translate(752.8 424.3)" d="M1.5 1.5H10 M2.5 4H9.5 M0.5 6.8H11 M5.8 0V6.8 M5.8 6.8L0.5 12 M6 8L11 12"/>
<text x="765.6" y="434.8" font-size="14.5" text-anchor="start" textLength="9.6" lengthAdjust="spacingAndGlyphs" fill="#1a1a1a" stroke="#1a1a1a" stroke-width="0.3">10</text>
<text x="785.7" y="434.8" font-size="14.5" text-anchor="start" textLength="9.6" lengthAdjust="spacingAndGlyphs" fill="#1a1a1a" stroke="#1a1a1a" stroke-width="0.3">18</text>
<rect x="776.3" y="427.6" width="7" height="1.3" fill="#222"/>
<rect x="14.0" y="418" width="1.5" height="1.3" fill="#d8d8d8"/>
<rect x="19.5" y="418" width="3" height="1.3" fill="#c8c8c8"/>
<rect x="24.5" y="418" width="3" height="1.3" fill="#b8b8b8"/>
<rect x="30.5" y="418" width="1.5" height="1.3" fill="#e0e0e0"/>
<rect x="37.0" y="418" width="3" height="1.3" fill="#d8d8d8"/>
<rect x="43.0" y="418" width="1.5" height="1.3" fill="#e0e0e0"/>
<rect x="46.5" y="418" width="1" height="1.3" fill="#d8d8d8"/>
<rect x="49.5" y="418" width="2" height="1.3" fill="#c8c8c8"/>
<rect x="55.5" y="418" width="3" height="1.3" fill="#e0e0e0"/>
<rect x="63.5" y="418" width="3" height="1.3" fill="#e0e0e0"/>
<rect x="69.5" y="418" width="2" height="1.3" fill="#c8c8c8"/>
<rect x="73.5" y="418" width="1.5" height="1.3" fill="#e0e0e0"/>
<rect x="78.0" y="418" width="2" height="1.3" fill="#e0e0e0"/>
<rect x="84.0" y="418" width="3" height="1.3" fill="#e0e0e0"/>
<rect x="91.0" y="418" width="3" height="1.3" fill="#d8d8d8"/>
<rect x="98.0" y="418" width="1" height="1.3" fill="#b8b8b8"/>
<rect x="102.0" y="418" width="2" height="1.3" fill="#c8c8c8"/>
<rect x="107.0" y="418" width="2" height="1.3" fill="#b8b8b8"/>
<rect x="111.0" y="418" width="1" height="1.3" fill="#e0e0e0"/>
<rect x="117.0" y="418" width="1" height="1.3" fill="#b8b8b8"/>
<rect x="120.0" y="418" width="3" height="1.3" fill="#d8d8d8"/>
<rect x="125.0" y="418" width="2" height="1.3" fill="#e0e0e0"/>
<rect x="132.0" y="418" width="1" height="1.3" fill="#c8c8c8"/>
<rect x="135.0" y="418" width="3" height="1.3" fill="#b8b8b8"/>
<rect x="142.0" y="418" width="1.5" height="1.3" fill="#c8c8c8"/>
<rect x="147.5" y="418" width="1" height="1.3" fill="#c8c8c8"/>
<rect x="150.5" y="418" width="1" height="1.3" fill="#d8d8d8"/>
<rect x="156.5" y="418" width="2" height="1.3" fill="#b8b8b8"/>
<rect x="161.5" y="418" width="1" height="1.3" fill="#b8b8b8"/>
<rect x="166.5" y="418" width="2" height="1.3" fill="#d8d8d8"/>
<rect x="173.5" y="418" width="3" height="1.3" fill="#e0e0e0"/>
<rect x="181.5" y="418" width="1" height="1.3" fill="#b8b8b8"/>
<rect x="187.5" y="418" width="1.5" height="1.3" fill="#b8b8b8"/>
<rect x="194.0" y="418" width="2" height="1.3" fill="#b8b8b8"/>
<rect x="200.0" y="418" width="1" height="1.3" fill="#e0e0e0"/>
</svg></body></html>
